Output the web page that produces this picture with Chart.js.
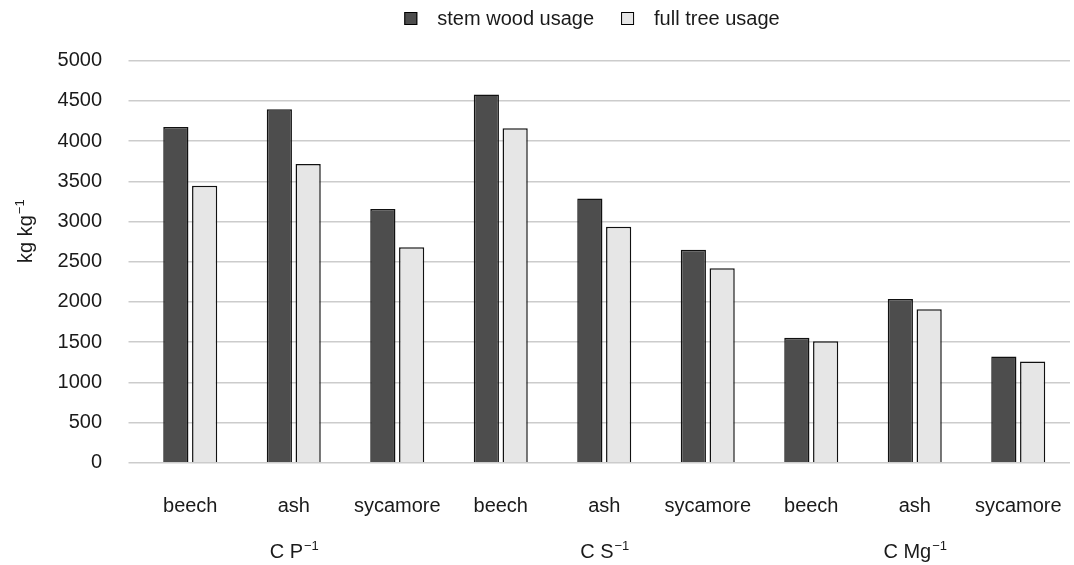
<!DOCTYPE html>
<html>
<head>
<meta charset="utf-8">
<script src="https://cdn.jsdelivr.net/npm/chart.js@4/dist/chart.umd.min.js"></script>
<style>
html,body{margin:0;padding:0;background:#fff;}
#wrap{width:1074px;height:565px;position:relative;}
</style>
</head>
<body>
<div id="wrap"><canvas id="c" width="1074" height="565"></canvas></div>
<script>
const categories = ['beech','ash','sycamore','beech','ash','sycamore','beech','ash','sycamore'];
const stemWood = [4175, 4395, 3155, 4580, 3285, 2650, 1555, 2035, 1320];
const fullTree = [3445, 3715, 2680, 4160, 2935, 2420, 1510, 1910, 1260];
const seriesNames = ['stem wood usage', 'full tree usage'];
const groupBase = ['C P', 'C S', 'C Mg'];
const groupSup = ['\u22121', '\u22121', '\u22121'];
const groupCenterIndex = [1, 4, 7];
const yTitleBase = 'kg kg';
const yTitleSup = '\u22121';
const yMin = 0, yMax = 5000, yStep = 500;

const FONT = '"Liberation Sans", Arial, Helvetica, sans-serif';
const FS = 20;
const SUP = 13;
const TXT = '#1a1a1a';

function drawSup(ctx, base, sup, cx, baseline) {
  ctx.font = FS + 'px ' + FONT;
  const wb = ctx.measureText(base).width;
  ctx.font = SUP + 'px ' + FONT;
  const ws = ctx.measureText(sup).width;
  const x0 = cx - (wb + ws) / 2;
  ctx.textAlign = 'left';
  ctx.textBaseline = 'alphabetic';
  ctx.font = FS + 'px ' + FONT;
  ctx.fillText(base, x0, baseline);
  ctx.font = SUP + 'px ' + FONT;
  ctx.fillText(sup, x0 + wb + 1, baseline - 8);
}

const extras = {
  id: 'extras',
  afterDraw(chart) {
    const ctx = chart.ctx;
    const xs = chart.scales.x;
    const area = chart.chartArea;
    ctx.save();
    ctx.fillStyle = TXT;
    for (let i = 0; i < groupBase.length; i++) {
      const cx = xs.getPixelForValue(groupCenterIndex[i]);
      drawSup(ctx, groupBase[i], groupSup[i], cx, area.bottom + 95);
    }
    ctx.save();
    ctx.translate(32, area.top + 171);
    ctx.rotate(-Math.PI / 2);
    drawSup(ctx, yTitleBase, yTitleSup, 0, 0);
    ctx.restore();
    const ds = chart.data.datasets;
    ctx.font = FS + 'px ' + FONT;
    const box = 13, gapText = 20, gapItem = 27;
    const widths = ds.map(d => ctx.measureText(d.label).width);
    let total = 0;
    widths.forEach((w, i) => { total += box + gapText + w + (i < widths.length - 1 ? gapItem : 0); });
    let x = 592 - total / 2;
    const cy = 18.5;
    ds.forEach((d, i) => {
      ctx.fillStyle = d.backgroundColor;
      ctx.fillRect(x, cy - box / 2, box, box);
      ctx.strokeStyle = '#000';
      ctx.lineWidth = 1;
      ctx.strokeRect(x + 0.5, cy - box / 2 + 0.5, box - 1, box - 1);
      ctx.fillStyle = TXT;
      ctx.font = FS + 'px ' + FONT;
      ctx.textAlign = 'left';
      ctx.textBaseline = 'middle';
      ctx.fillText(d.label, x + box + gapText, cy + 1);
      x += box + gapText + widths[i] + gapItem;
    });
    ctx.restore();
  }
};

Chart.defaults.font.family = FONT;
Chart.defaults.font.size = FS;
Chart.defaults.color = TXT;

new Chart(document.getElementById('c'), {
  type: 'bar',
  data: {
    labels: categories,
    datasets: [
      { label: seriesNames[0], data: stemWood, backgroundColor: '#4d4d4d', borderColor: '#111', borderWidth: 1.5,
        categoryPercentage: 0.5565, barPercentage: 0.875 },
      { label: seriesNames[1], data: fullTree, backgroundColor: '#e6e6e6', borderColor: '#111', borderWidth: 1.5,
        categoryPercentage: 0.5565, barPercentage: 0.875 }
    ]
  },
  options: {
    responsive: false,
    animation: false,
    layout: { padding: { top: 60.7, right: 4, left: 0, bottom: 0 } },
    plugins: { legend: { display: false }, tooltip: { enabled: false }, title: { display: false } },
    scales: {
      x: {
        grid: { display: false, drawTicks: false },
        border: { display: false },
        ticks: { padding: 32, maxRotation: 0, autoSkip: false, color: TXT },
        afterFit(s) { s.height = 102.3; s.paddingLeft = 0; s.paddingRight = 0; }
      },
      y: {
        min: yMin, max: yMax,
        grid: { color: '#cccccc', lineWidth: 1.5, tickLength: 10 },
        border: { display: false },
        ticks: { stepSize: yStep, padding: 26.5, color: TXT, callback: v => String(v) },
        afterFit(s) { s.width = 138.5; s.paddingTop = 0; s.paddingBottom = 0; }
      }
    }
  },
  plugins: [extras]
});
</script>
</body>
</html>
